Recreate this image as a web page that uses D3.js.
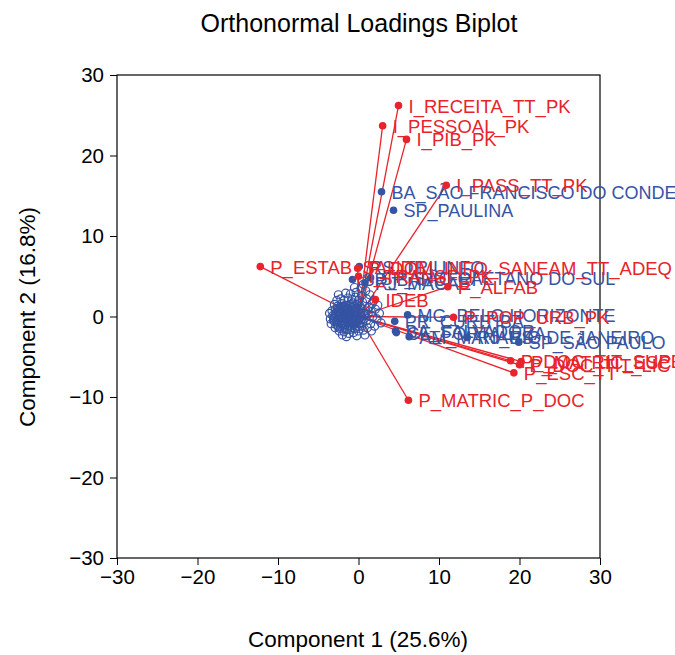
<!DOCTYPE html>
<html><head><meta charset="utf-8">
<script src="https://cdn.jsdelivr.net/npm/d3@7"></script>
<style>body{margin:0;background:#fff;} text{font-family:"Liberation Sans",Arial,sans-serif;}</style>
</head><body>
<svg id="chart" width="675" height="655"></svg>
<script>
// Loadings (variables), drawn as red vectors from the origin
const loadingNames = ["I_RECEITA_TT_PK","I_PESSOAL_PK","I_PIB_PK","I_PASS_TT_PK","P_ESTAB_SAUDE","P_DOM_INFO_SANEAM_TT_ADEQ","I_TRANSF_PK","P_ALFAB","IDEB","P_POP_URB_PK","P_DOC_TIT_SUPE","P_MATRIC_ESC","P_DOC_TIT_LIC","P_ESC_TT","P_MATRIC_P_DOC"];
const loadingX = [4.97,3.0,5.96,10.9,-12.2,-0.1,0.0,11.1,2.1,11.8,18.9,20.2,20.0,19.3,6.2];
const loadingY = [26.2,23.7,22.0,16.3,6.2,6.0,5.0,3.7,2.1,-0.1,-5.5,-5.6,-6.0,-7.0,-10.4];

// Labelled observations (blue filled)
const obsNames = ["BA_SÃO FRANCISCO DO CONDE","SP_PAULINA","RS_TRIUNFO","SP_SÃO CAETANO DO SUL","SP_BARUERI","RJ_MACAÉ","MG_BELO HORIZONTE","PR_CURITIBA","BA_SALVADOR","CE_FORTALEZA","AM_MANAUS","RJ_RIO DE JANEIRO","SP_SÃO PAULO"];
const obsX = [2.86,4.35,0.1,1.5,-0.75,0.8,6.1,4.5,4.6,4.7,6.3,13.5,19.9];
const obsY = [15.5,13.2,6.2,4.8,4.6,4.2,0.2,-0.6,-1.8,-2.0,-2.5,-2.6,-3.2];

// Unlabelled observations (blue open circles)
const clusterX = [-2.8,-2.5,-2.2,-2.0,-1.8,-1.6,-1.5,-1.3,-1.2,-1.0,-0.9,-0.8,-0.6,-0.5,-0.4,-0.2,0.0,0.1,0.3,0.5,
-3.0,-2.9,-2.7,-2.6,-2.4,-2.3,-2.1,-1.9,-1.7,-1.4,-1.1,-0.9,-0.7,-0.3,0.2,0.4,0.7,0.9,1.0,1.2,
-3.2,-3.1,-2.6,-2.4,-2.2,-2.0,-1.9,-1.7,-1.6,-1.4,-1.3,-1.1,-1.0,-0.8,-0.6,-0.5,-0.3,-0.1,0.1,0.3,
-2.7,-2.2,-1.8,-1.3,-0.8,-0.4,0.0,0.5,1.3,1.6,1.8,1.5,1.1,0.6,0.0,-0.6,-1.2,-1.8,-2.4,-2.9,
-3.4,-3.3,-3.0,-1.0,-0.3,0.4,1.0,1.7,2.1,2.3,2.0,1.6,0.8,-0.2,-1.5,
-2.5,-1.6,0.3,0.9,1.4,2.6,2.8,-3.5,-3.6,-2.0,
-2.3,-1.5,-1.2,-0.7,-0.2,-2.8,-2.1,-1.8,-0.9,-0.4,
0.6,-0.5,1.9,2.4,
-2.6,-2.3,-2.0,-1.7,-1.4,-1.1,-0.8,-0.5,-0.2,-2.5,-2.2,-1.9,-1.6,-1.3,-1.0,-0.7,-0.4,-0.1,-2.9,-2.7,
-2.4,-2.1,-1.8,-1.5,-1.2,-0.9,-0.6,-0.3,0.2,0.4,-3.0,-2.5,-2.0,-1.5,-1.0,-0.5,0.0,0.6,0.8,-1.7,
-2.2,-1.4,-0.9,-0.6,-2.6,-3.1,-1.1,-0.2,0.3,-1.9];
const clusterY = [0.2,-0.4,0.6,-0.9,0.1,-0.3,0.8,-1.2,0.3,-0.6,1.1,-0.1,0.5,-1.0,0.2,-0.5,0.9,-0.2,0.4,-0.8,
-0.6,0.9,-1.1,1.3,0.0,-1.5,1.6,-0.5,1.2,-1.6,1.5,-1.4,1.7,-1.3,1.3,-1.2,0.1,0.7,-0.5,0.3,
0.1,-0.2,0.5,-0.7,0.3,0.9,-1.2,-0.8,0.4,1.0,-0.3,0.0,0.7,-0.9,-0.3,1.2,0.6,0.1,-0.9,-0.4,
2.0,2.2,2.0,2.3,2.1,2.4,2.0,1.8,1.1,0.6,0.0,-0.9,-1.4,-1.7,-1.8,-2.0,-2.1,-1.9,-1.8,-1.4,
-0.9,0.7,1.5,2.8,3.0,2.6,2.2,1.6,0.9,-0.3,-1.2,-1.8,-2.3,-2.4,-2.5,
2.7,2.9,3.5,3.2,2.7,0.4,-0.8,-0.3,0.4,-2.3,
1.0,-0.1,-0.8,0.9,-0.8,-0.4,-0.2,0.6,0.3,-0.4,
4.0,3.6,2.0,1.4,
-0.2,0.4,-0.5,0.2,-0.6,0.5,-0.4,0.3,-0.2,1.0,-1.2,1.3,-1.0,0.6,-1.1,1.3,-0.7,0.6,0.4,-0.8,
0.7,-0.8,-0.2,0.5,-0.4,0.0,-0.7,1.0,0.5,0.0,0.0,-1.3,1.2,1.4,1.3,-1.5,-1.2,-0.3,0.4,-1.5,
-0.3,0.2,-0.8,0.7,0.8,-0.5,-1.6,1.5,1.0,0.9];

const xTicks = [-30,-20,-10,0,10,20,30];
const yTicks = [-30,-20,-10,0,10,20,30];

const RED = "#e8232b", BLUE = "#3554a4";
const svg = d3.select("#chart");
const m = {l:117, t:75, r:600, b:558};
const x = d3.scaleLinear().domain([-30,30]).range([m.l, m.r]);
const y = d3.scaleLinear().domain([-30,30]).range([m.b, m.t]);

// title
svg.append("text").attr("x",359).attr("y",32).attr("text-anchor","middle")
  .attr("font-size",25).attr("fill","#000").text("Orthonormal Loadings Biplot");

// axes
const gx = svg.append("g").attr("transform",`translate(0,${m.b})`)
  .call(d3.axisBottom(x).tickValues(xTicks).tickSize(7).tickPadding(4).tickFormat(d3.format("d")));
const gy = svg.append("g").attr("transform",`translate(${m.l},0)`)
  .call(d3.axisLeft(y).tickValues(yTicks).tickSize(7).tickPadding(6).tickFormat(d3.format("d")));
[gx,gy].forEach(g=>{
  g.select(".domain").remove();
  g.selectAll("text").attr("font-size",20.5).attr("fill","#000").style("font-family","Liberation Sans, Arial, sans-serif");
  g.selectAll("line").attr("stroke","#000");
});
svg.append("rect").attr("x",m.l).attr("y",m.t).attr("width",m.r-m.l).attr("height",m.b-m.t)
  .attr("fill","none").attr("stroke","#000").attr("stroke-width",1.2);

// axis titles
svg.append("text").attr("x",358).attr("y",647).attr("text-anchor","middle").attr("font-size",22.5)
  .text("Component 1 (25.6%)");
svg.append("text").attr("transform","translate(35,317) rotate(-90)").attr("text-anchor","middle").attr("font-size",22.5)
  .text("Component 2 (16.8%)");

const loadings = loadingNames.map((n,i)=>({n, x:loadingX[i], y:loadingY[i]}));
const obs = obsNames.map((n,i)=>({n, x:obsX[i], y:obsY[i]}));
const cluster = clusterX.map((v,i)=>({x:v, y:clusterY[i]}));

// loading vectors
svg.append("g").selectAll("line").data(loadings).join("line")
  .attr("x1",x(0)).attr("y1",y(0)).attr("x2",d=>x(d.x)).attr("y2",d=>y(d.y))
  .attr("stroke",RED).attr("stroke-width",1.3);

// unlabelled observations
svg.append("g").selectAll("circle").data(cluster).join("circle")
  .attr("cx",d=>x(d.x)).attr("cy",d=>y(d.y)).attr("r",4)
  .attr("fill","none").attr("stroke",BLUE).attr("stroke-width",1.2);

// labelled observations
svg.append("g").selectAll("circle").data(obs).join("circle")
  .attr("cx",d=>x(d.x)).attr("cy",d=>y(d.y)).attr("r",3.8).attr("fill",BLUE);
svg.append("g").selectAll("text").data(obs).join("text")
  .attr("x",d=>x(d.x)+10).attr("y",d=>y(d.y)+7).attr("font-size",18).attr("fill",BLUE)
  .text(d=>d.n);

// loading points and labels
svg.append("g").selectAll("circle").data(loadings).join("circle")
  .attr("cx",d=>x(d.x)).attr("cy",d=>y(d.y)).attr("r",3.8).attr("fill",RED);
svg.append("g").selectAll("text").data(loadings).join("text")
  .attr("x",d=>x(d.x)+10).attr("y",d=>y(d.y)+7).attr("font-size",18.5).attr("fill",RED)
  .text(d=>d.n);
</script>
</body></html>
